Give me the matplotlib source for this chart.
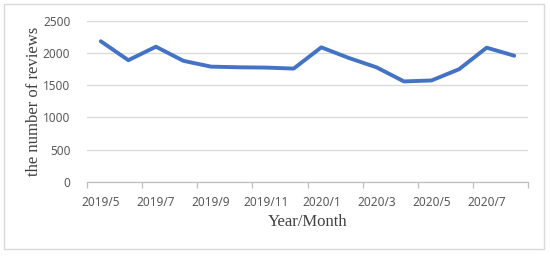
import matplotlib
matplotlib.use("Agg")
import matplotlib.pyplot as plt
from matplotlib.patches import Rectangle

months = ["2019/5", "2019/6", "2019/7", "2019/8", "2019/9", "2019/10", "2019/11", "2019/12",
          "2020/1", "2020/2", "2020/3", "2020/4", "2020/5", "2020/6", "2020/7", "2020/8"]
reviews = [2185, 1890, 2100, 1880, 1790, 1780, 1775, 1760,
           2090, 1925, 1780, 1560, 1575, 1750, 2085, 1960]
y_ticks = [0, 500, 1000, 1500, 2000, 2500]

fig = plt.figure(figsize=(5.5, 2.56), dpi=100)
ax_l, ax_r, ax_t, ax_b = 87, 528, 21, 181.7
ax = fig.add_axes([ax_l/550, 1-ax_b/256, (ax_r-ax_l)/550, (ax_b-ax_t)/256])

x = list(range(len(months)))
ax.plot(x, reviews, color="#4472C4", lw=2.8, solid_capstyle="round", solid_joinstyle="round", zorder=3)

ax.set_xlim(-0.5, len(months) - 0.5)
ax.set_ylim(0, 2500)
ax.set_yticks(y_ticks)
ax.set_yticklabels([str(v) for v in y_ticks])
ax.set_xticks(x[::2])
ax.set_xticklabels(months[::2])
ax.set_xticks([i - 0.5 for i in range(0, len(months) + 1, 2)], minor=True)

ax.grid(axis="y", color="#D9D9D9", lw=0.9, zorder=0)
for s in ["top", "right", "left"]:
    ax.spines[s].set_visible(False)
ax.spines["bottom"].set_color("#BFBFBF")
ax.spines["bottom"].set_linewidth(0.9)

ax.tick_params(axis="x", which="major", length=0, pad=10, labelsize=8.5, labelcolor="#595959")
ax.tick_params(axis="x", which="minor", length=4, width=0.9, color="#BFBFBF", direction="out")
ax.tick_params(axis="y", length=0, pad=12, labelsize=8.5, labelcolor="#595959")
for lab in ax.get_xticklabels() + ax.get_yticklabels():
    lab.set_family("Noto Sans")

ax.set_xlabel("Year/Month", family="Liberation Serif", fontsize=12, color="#404040", va="center")
ax.set_ylabel("the number of reviews", family="Liberation Serif", fontsize=12, color="#404040", va="center")
ax.xaxis.set_label_coords((307.5-ax_l)/(ax_r-ax_l), (ax_b-222)/(ax_b-ax_t))
ax.yaxis.set_label_coords((34-ax_l)/(ax_r-ax_l), (ax_b-101)/(ax_b-ax_t))

fig.patches.append(Rectangle((4/550, 1-249/256), (544-4)/550, (249-4)/256, transform=fig.transFigure,
                             fill=False, edgecolor="#D9D9D9", lw=1.0))

fig.savefig("out.png", dpi=100, facecolor="white")
